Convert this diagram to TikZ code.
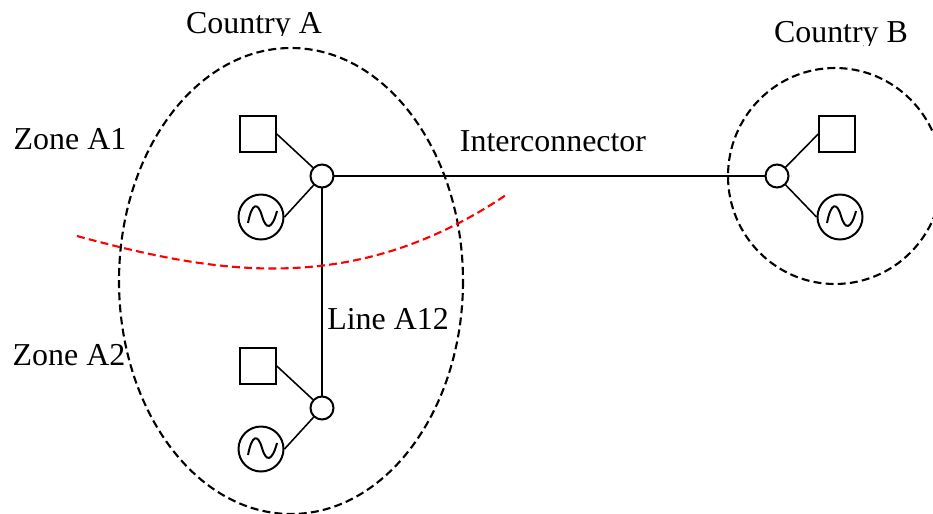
\documentclass[tikz,border=0pt]{standalone}
\usepackage{fontspec}
\setmainfont{Liberation Serif}
\tikzset{
    busnode/.style={draw,circle,fill=white,line width=1.6pt,minimum size=23*0.0283cm,inner sep=0pt},
    loadbox/.style={draw,rectangle,fill=white,minimum size=36*0.0283cm,inner sep=0pt},
    gennode/.style={draw,circle,fill=white,line width=1.6pt,minimum size=45*0.0283cm,inner sep=0pt},
    zoneline/.style={line width=1.7pt,dash pattern=on 6.4pt off 3.4pt},
    lbl/.style={font=\fontsize{25.7}{28}\selectfont,inner sep=0pt,anchor=center}
}
\newcommand{\sinewave}[1]{\draw[shift={(#1)},line width=1.6pt] (-13,6) .. controls (-9,-15) and (-3,-15) .. (1,-1) .. controls (5,13) and (11,13) .. (16,-6);}
\begin{document}
\begin{tikzpicture}[x=0.0283cm,y=-0.0283cm,line width=1.25pt]
    \useasboundingbox (0,0) rectangle (933,514);
    % zone outlines
    \draw[zoneline] (291,281) ellipse (172 and 233);
    \draw[zoneline] (835,176) ellipse (107 and 108);
    % buses
    \node[busnode] (busA) at (322,176) {};
    \node[busnode] (busC) at (322,408) {};
    \node[busnode] (busB) at (777,176) {};
    \node[loadbox] (loadA) at (258,134) {};
    \node[loadbox] (loadC) at (258,366) {};
    \node[loadbox] (loadB) at (837,134) {};
    \node[gennode] (genA) at (261,217) {};
    \node[gennode] (genC) at (261,449) {};
    \node[gennode] (genB) at (840,217) {};
    \sinewave{genA}
    \sinewave{genC}
    \sinewave{genB}
    % connections
    \draw (loadA.east) -- (busA);
    \draw (genA.east) -- (busA);
    \draw (loadC.east) -- (busC);
    \draw (genC.east) -- (busC);
    \draw (loadB.west) -- (busB);
    \draw (genB.west) -- (busB);
    \draw (busA) -- (busC);
    \draw (busA) -- (busB);
    % border between zones
    \draw[red,zoneline] (77,236) .. controls (210,272) and (350,300) .. (506,195);
    % labels, the two titles are cut off at the bottom
    \begin{scope}
        \clip (150,0) rectangle (360,35);
        \node[lbl] (countryA) at (254,26) {Country A};
    \end{scope}
    \begin{scope}
        \clip (750,0) rectangle (933,45);
        \node[lbl] (countryB) at (841,35) {Country B};
    \end{scope}
    \node[lbl] (zoneA) at (70,139) {Zone A1};
    \node[lbl] (zoneC) at (69,355) {Zone A2};
    \node[lbl] (inter) at (553,141) {Interconnector};
    \node[lbl] (lineAC) at (388,319) {Line A12};
\end{tikzpicture}
\end{document}
